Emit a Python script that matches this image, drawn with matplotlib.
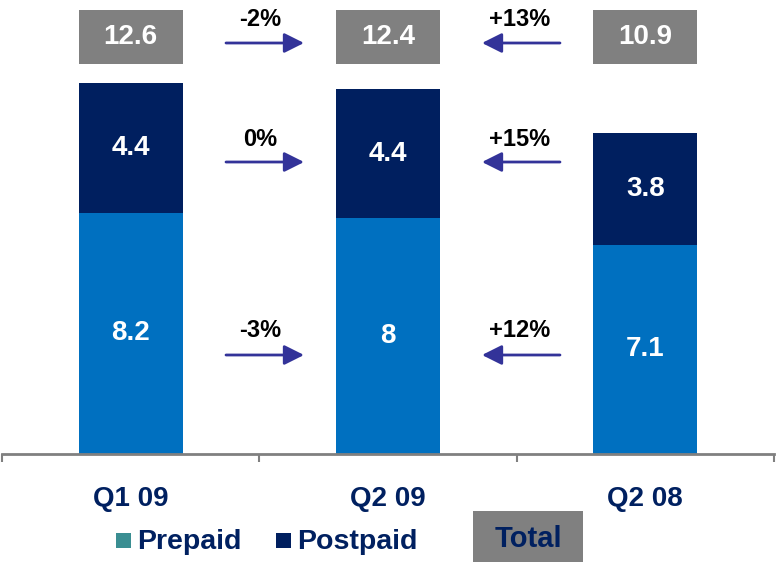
import matplotlib
matplotlib.use("Agg")
import matplotlib.pyplot as plt
from matplotlib.patches import Rectangle
import numpy as np

plt.rcParams['font.family'] = ['Liberation Sans', 'DejaVu Sans']
plt.rcParams['font.weight'] = 'bold'

# ---- data ----
categories = ['Q1 09', 'Q2 09', 'Q2 08']
prepaid = [8.2, 8, 7.1]
postpaid = [4.4, 4.4, 3.8]
totals = [12.6, 12.4, 10.9]
total_change = ['-2%', '+13%']
postpaid_change = ['0%', '+15%']
prepaid_change = ['-3%', '+12%']
legend_labels = ['Prepaid', 'Postpaid']
total_label = 'Total'

# ---- style ----
C_PRE = '#0070C0'
C_POST = '#001F5F'
C_GREY = '#808080'
C_NAVY = '#002060'
C_TEAL = '#3A8E92'
C_ARROW = '#333399'
FS_BIG = 20

W, H = 779, 562
fig = plt.figure(figsize=(W / 100, H / 100), dpi=100)
base_px = 454
ax = fig.add_axes([2 / W, 1 - base_px / H, (774 - 2) / W, base_px / H])
YMAX = base_px / 29.44
ax.set_xlim(-0.5, 2.5)
ax.set_ylim(0, YMAX)
ax.patch.set_visible(False)
for s in ['left', 'right', 'top']:
    ax.spines[s].set_visible(False)
ax.spines['bottom'].set_color(C_GREY)
ax.spines['bottom'].set_linewidth(2)
ax.set_yticks([])


def py(px):
    return (base_px - px) / base_px * YMAX


def pxx(px):
    return -0.5 + (px - 2) / (774 - 2) * 3


x = np.arange(len(categories))
bw = 0.405
ax.bar(x, prepaid, bw, color=C_PRE, zorder=2)
ax.bar(x, postpaid, bw, bottom=prepaid, color=C_POST, zorder=2)

for i in range(len(categories)):
    ax.text(x[i], prepaid[i] / 2, f'{prepaid[i]:g}', ha='center', va='center',
            color='white', fontsize=FS_BIG, fontweight='bold', zorder=3)
    ax.text(x[i], prepaid[i] + postpaid[i] / 2, f'{postpaid[i]:g}', ha='center',
            va='center', color='white', fontsize=FS_BIG, fontweight='bold', zorder=3)
    # total box
    ax.add_patch(Rectangle((x[i] - bw / 2, py(64)), bw, py(10) - py(64),
                           facecolor=C_GREY, edgecolor='none', clip_on=False))
    ax.text(x[i], (py(64) + py(10)) / 2, f'{totals[i]:g}', ha='center', va='center',
            color='white', fontsize=FS_BIG, fontweight='bold', clip_on=False)

# ticks
ax.set_xticks(x)
ax.set_xticklabels(categories, fontsize=FS_BIG, fontweight='bold', color=C_NAVY)
ax.tick_params(axis='x', which='major', length=0, pad=23)
ax.set_xticks([-0.5, 0.5, 1.5, 2.5], minor=True)
ax.tick_params(axis='x', which='minor', length=6, width=1.5, color=C_GREY)

# change arrows
rows = [(total_change, 20, 43), (postpaid_change, 140, 162), (prepaid_change, 331, 355)]
for labels, ty, ay in rows:
    # right arrow between bar 0 and 1
    ax.annotate('', xy=(pxx(304), py(ay)), xytext=(pxx(226), py(ay)),
                arrowprops=dict(arrowstyle='-|>,head_length=0.6,head_width=0.3',
                                mutation_scale=20, lw=2, color=C_ARROW,
                                shrinkA=0, shrinkB=0), annotation_clip=False)
    ax.text(pxx(260), py(ty), labels[0], ha='center', va='center', fontsize=17,
            fontweight='bold', color='black')
    # left arrow between bar 2 and 1
    ax.annotate('', xy=(pxx(482), py(ay)), xytext=(pxx(560), py(ay)),
                arrowprops=dict(arrowstyle='-|>,head_length=0.6,head_width=0.3',
                                mutation_scale=20, lw=2, color=C_ARROW,
                                shrinkA=0, shrinkB=0), annotation_clip=False)
    ax.text(pxx(520), py(ty), labels[1], ha='center', va='center', fontsize=17,
            fontweight='bold', color='black')


# legend (manual)
def fx(px):
    return px / W


def fy(px):
    return 1 - px / H


for (mx, col), lab in zip([(116, C_TEAL), (276, C_POST)], legend_labels):
    fig.patches.append(Rectangle((fx(mx), fy(548)), 15 / W, 15 / H, facecolor=col,
                                 edgecolor='none', transform=fig.transFigure))
    fig.text(fx(mx + 21), fy(542), lab, ha='left', va='center', fontsize=20.5,
             fontweight='bold', color=C_NAVY)

fig.patches.append(Rectangle((fx(473), fy(566)), 110 / W, 55 / H, facecolor=C_GREY,
                             edgecolor='none', transform=fig.transFigure))
fig.text(fx(528), fy(539), total_label, ha='center', va='center', fontsize=21,
         fontweight='bold', color=C_NAVY)

fig.savefig('out.png', dpi=100)
